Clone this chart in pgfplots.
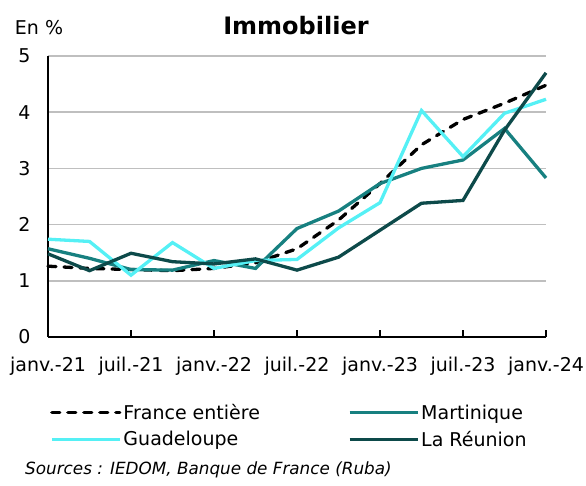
\documentclass[border=0pt]{standalone}
\usepackage{fontspec}
\setmainfont{DejaVu Sans}
\usepackage{pgfplots}
\pgfplotsset{compat=1.18}
\definecolor{cmart}{HTML}{178080}
\definecolor{cguad}{HTML}{55F0F5}
\definecolor{creu}{HTML}{0D4A4A}
\definecolor{cgrid}{HTML}{BFBFBF}
\begin{document}
\begin{tikzpicture}[x=1pt,y=1pt]
\begin{axis}[
  at={(48pt,149pt)}, anchor=south west,
  scale only axis, width=498pt, height=281pt,
  xmin=0, xmax=36, ymin=0, ymax=5,
  xtick={0,6,12,18,24,30,36},
  xticklabels={janv.-21,juil.-21,janv.-22,juil.-22,janv.-23,juil.-23,janv.-24},
  ytick={0,1,2,3,4,5},
  ymajorgrids, grid style={cgrid, line width=1.5pt},
  axis x line*=bottom, axis y line*=left,
  axis line style={black, line width=2pt, -},
  x tick style={black, line width=1.5pt}, major tick length=7pt, tick align=inside,
  y tick style={draw=none},
  /pgf/number format/assume math mode=true,
  ticklabel style={font=\fontsize{19}{22}\selectfont},
  yticklabel style={xshift=-14pt},
  xticklabel style={yshift=-17pt},
  legend columns=2,
  legend style={draw=none, fill=none, at={(axis description cs:0.004,-0.232)}, anchor=north west,
    font=\fontsize{19}{22}\selectfont, inner sep=0pt, row sep=6pt,
    /tikz/every even column/.append style={column sep=86pt}},
  legend cell align=left,
  legend image code/.code={\draw[#1] (0pt,0pt) -- (68pt,0pt);},
  clip=false,
]
\addplot[black, line width=3.3pt, dash pattern=on 8pt off 8pt, line cap=round] coordinates {
(0,1.26)(3,1.22)(6,1.20)(9,1.18)(12,1.22)(15,1.32)(18,1.57)(21,2.08)(24,2.73)(27,3.42)(30,3.87)(33,4.16)(36,4.48)};
\addlegendentry{France entière}
\addplot[cmart, line width=3.3pt] coordinates {
(0,1.57)(3,1.40)(6,1.20)(9,1.19)(12,1.36)(15,1.22)(18,1.93)(21,2.24)(24,2.73)(27,3.00)(30,3.15)(33,3.71)(36,2.83)};
\addlegendentry{Martinique}
\addplot[cguad, line width=3.3pt] coordinates {
(0,1.74)(3,1.70)(6,1.10)(9,1.68)(12,1.22)(15,1.36)(18,1.38)(21,1.94)(24,2.39)(27,4.03)(30,3.21)(33,3.98)(36,4.23)};
\addlegendentry{Guadeloupe}
\addplot[creu, line width=3.3pt] coordinates {
(0,1.48)(3,1.18)(6,1.49)(9,1.34)(12,1.30)(15,1.39)(18,1.19)(21,1.42)(24,1.90)(27,2.38)(30,2.43)(33,3.68)(36,4.70)};
\addlegendentry{La Réunion}
\end{axis}
\node[font=\bfseries\fontsize{24}{28}\selectfont] at (296pt,460pt) {Immobilier};
\node[font=\fontsize{19}{22}\selectfont] at (39pt,458pt) {En \%};
\node[font=\itshape\fontsize{16.8}{19}\selectfont, anchor=west, inner sep=0pt] at (25pt,16pt) {Sources : IEDOM, Banque de France (Ruba)};
\pgfresetboundingbox
\path[use as bounding box] (0,0) rectangle (586pt,486pt);
\end{tikzpicture}
\end{document}
